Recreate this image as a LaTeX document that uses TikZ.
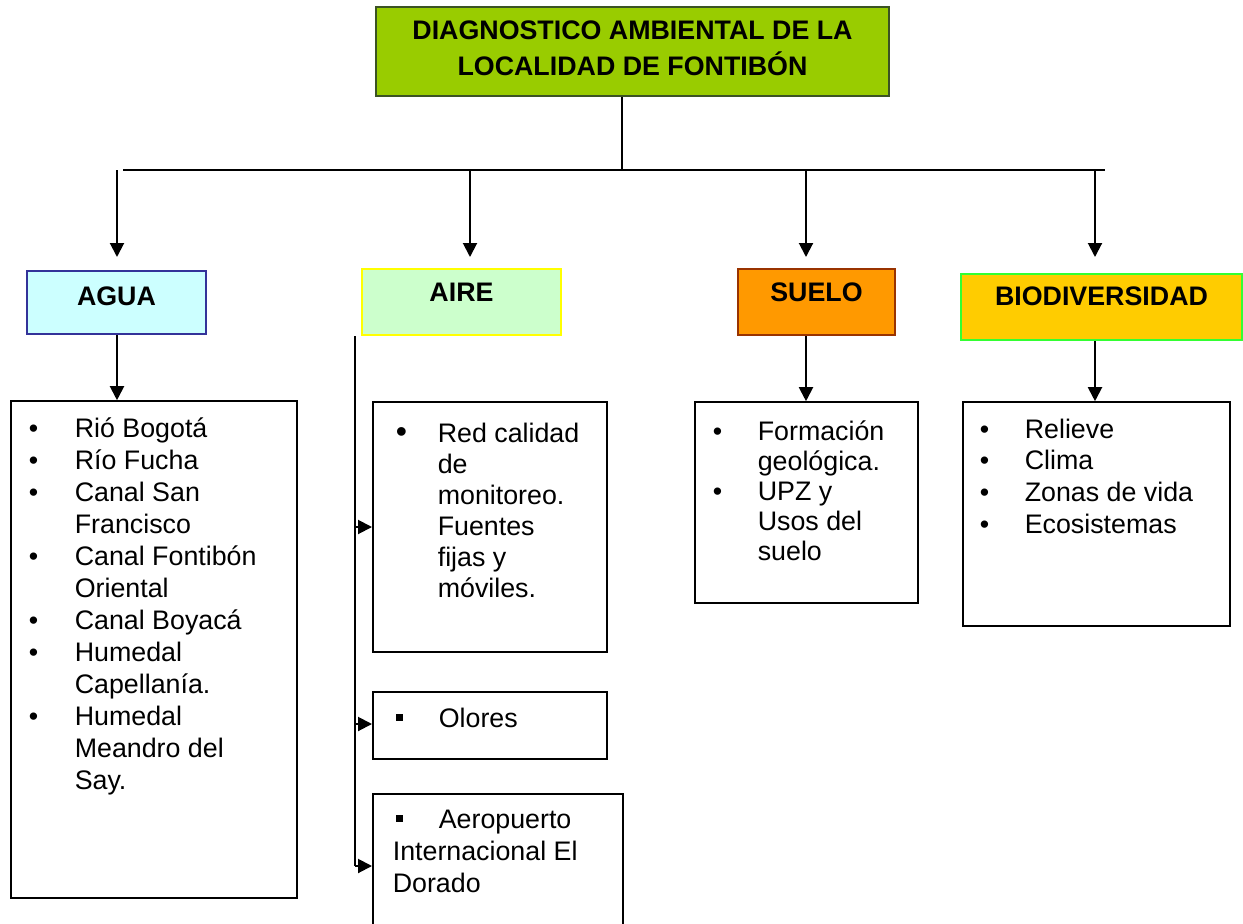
\documentclass[tikz,border=0pt]{standalone}
\usepackage{fontspec}
\setmainfont{Liberation Sans}
\usepackage{array}
\usetikzlibrary{arrows.meta}
\newcommand\fs[1]{\fontsize{26.8}{#1}\selectfont}
\newcommand\bul{\textbullet}
\newcommand\sqb{\raisebox{6pt}{\rule{7pt}{7pt}}}
\definecolor{titlegreen}{HTML}{99CC00}
\definecolor{titleborder}{HTML}{3B5323}
\definecolor{aguafill}{HTML}{CCFFFF}
\definecolor{aguaborder}{HTML}{333399}
\definecolor{airefill}{HTML}{CCFFCC}
\definecolor{aireborder}{HTML}{FFFF00}
\definecolor{suelofill}{HTML}{FF9900}
\definecolor{sueloborder}{HTML}{993300}
\definecolor{biofill}{HTML}{FFCC00}
\definecolor{bioborder}{HTML}{33FF33}
\begin{document}
\begin{tikzpicture}[x=1pt,y=-1pt,
  hdr/.style={draw, line width=2pt, inner sep=0pt, anchor=base, font=\bfseries\fs{36}},
  lst/.style={draw=black, line width=1.6pt, inner ysep=0pt, anchor=base west, font=\fs{32}},
  conn/.style={line width=2pt},
  arr/.style={conn, -{Triangle[width=14pt,length=14pt]}}]
\useasboundingbox[fill=white] (0,0) rectangle (1243,924);

% title
\node[hdr, fill=titlegreen, draw=titleborder, minimum width=513pt, text height=32pt, text depth=57pt] (title) at (632.5,39)
  {\begin{tabular}[t]{@{}c@{}}DIAGNOSTICO AMBIENTAL DE LA\\LOCALIDAD DE FONTIBÓN\end{tabular}};

% headers
\node[hdr, fill=aguafill, draw=aguaborder, minimum width=179pt, text height=34pt, text depth=29pt] (agua) at (116.5,305) {AGUA};
\node[hdr, fill=airefill, draw=aireborder, minimum width=199pt, text height=32pt, text depth=34pt] (aire) at (461.5,301) {AIRE};
\node[hdr, fill=suelofill, draw=sueloborder, minimum width=157pt, text height=32pt, text depth=34pt] (suelo) at (816.5,301) {SUELO};
\node[hdr, fill=biofill, draw=bioborder, minimum width=281pt, text height=31pt, text depth=35pt] (bio) at (1101.5,305) {BIODIVERSIDAD};

% lists
\node[lst, inner xsep=18pt, text height=36pt, text depth=461pt] (agualist) at (10,437)
 {\fs{32}\begin{tabular}[t]{@{}p{46pt}@{}p{204pt}@{}}
 \bul & Rió Bogotá\\
 \bul & Río Fucha\\
 \bul & Canal San\\
      & Francisco\\
 \bul & Canal Fontibón\\
      & Oriental\\
 \bul & Canal Boyacá\\
 \bul & Humedal\\
      & Capellanía.\\
 \bul & Humedal\\
      & Meandro del\\
      & Say.
 \end{tabular}};

\node[lst, inner xsep=23pt, text height=40pt, text depth=210pt] (aire1) at (372,442)
 {\fs{31}\begin{tabular}[t]{@{}p{42pt}@{}p{146pt}@{}}
 {\fontsize{32}{31}\selectfont\bul} & Red calidad\\
      & de\\
      & monitoreo.\\
      & Fuentes\\
      & fijas y\\
      & móviles.
 \end{tabular}};

\node[lst, inner xsep=23pt, text height=35pt, text depth=32pt] (aire2) at (372,727)
 {\fs{32}\begin{tabular}[t]{@{}p{43pt}@{}p{145pt}@{}}
 \sqb & Olores
 \end{tabular}};

\node[lst, inner xsep=20pt, text height=34pt, text depth=112pt] (aire3) at (372,828)
 {\fs{32}\begin{tabular}[t]{@{}p{46pt}@{}p{164pt}@{}}
 \hspace*{3pt}\sqb & Aeropuerto\\
 \multicolumn{2}{@{}l@{}}{Internacional El}\\
 \multicolumn{2}{@{}l@{}}{Dorado}
 \end{tabular}};

\node[lst, inner xsep=18pt, text height=38pt, text depth=163pt] (suelolist) at (694,440)
 {\fs{30}\begin{tabular}[t]{@{}p{45pt}@{}p{142pt}@{}}
 \bul & Formación\\
      & geológica.\\
 \bul & UPZ y\\
      & Usos del\\
      & suelo
 \end{tabular}};

\node[lst, inner xsep=17pt, text height=36pt, text depth=188pt] (biolist) at (962,438)
 {\fs{31.7}\begin{tabular}[t]{@{}p{45pt}@{}p{188pt}@{}}
 \bul & Relieve\\
 \bul & Clima\\
 \bul & Zonas de vida\\
 \bul & Ecosistemas
 \end{tabular}};

% connectors
\coordinate (bus) at (622,170);
\coordinate (busL) at (123,170);
\coordinate (busR) at (1105,170);
\coordinate (d1) at (117,170);
\coordinate (d2) at (470,170);
\coordinate (d3) at (806,170);
\coordinate (d4) at (1095,170);
\draw[conn] (bus |- title.south) -- (bus);
\draw[conn] (busL) -- (busR);
\draw[arr, shorten >=13pt] (d1) -- (d1 |- agua.north);
\draw[arr, shorten >=11pt] (d2) -- (d2 |- aire.north);
\draw[arr, shorten >=11pt] (d3) -- (d3 |- suelo.north);
\draw[arr, shorten >=16pt] (d4) -- (d4 |- bio.north);
\draw[arr] (d1 |- agua.south) -- (d1 |- agualist.north);
\draw[arr] (d3 |- suelo.south) -- (d3 |- suelolist.north);
\draw[arr] (d4 |- bio.south) -- (d4 |- biolist.north);

\coordinate (a1) at (355,527);
\coordinate (a2) at (355,724);
\coordinate (a3) at (355,866);
\draw[conn] (a1 |- aire.south) -- (a3);
\draw[arr] (a1) -- (a1 -| aire1.west);
\draw[arr] (a2) -- (a2 -| aire2.west);
\draw[arr] (a3) -- (a3 -| aire3.west);
\end{tikzpicture}
\end{document}
